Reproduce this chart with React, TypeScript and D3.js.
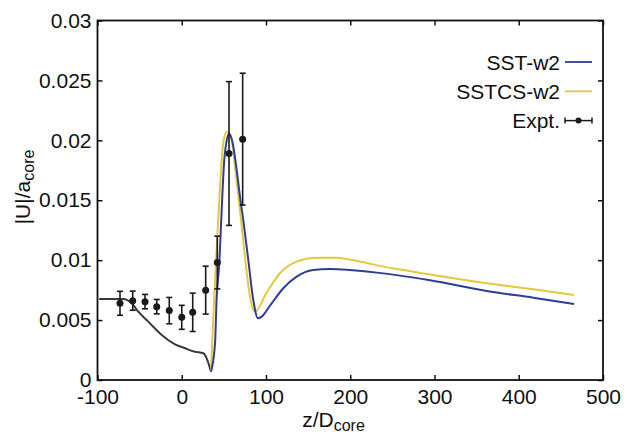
import React, { useEffect, useRef } from "react";
import * as d3 from "d3";

// upstream part (dark grey), shared by both runs
const upZ = [-98, -69.4, -59.4, -51.6, -39.7, -23.8, -8, 3.9, 15.7, 25.6, 29.6, 34.7];
const upU = [0.00676, 0.00676, 0.0064, 0.0057, 0.00487, 0.00376, 0.00298, 0.00265, 0.00236, 0.00223, 0.00181, 0.00069];

const sstZ = [34.7, 39.5, 41.5, 44.6, 47.4, 50.2, 53.4, 56.4, 60.5, 65.2, 69.1, 73, 79, 84.9, 90.5, 94.9, 104.7, 120.5, 136.4, 156.1, 176, 199.7, 231.4, 259, 294.7, 362, 417.3, 465.6];
const sstU = [0.00069, 0.00306, 0.00696, 0.00974, 0.0142, 0.0181, 0.02, 0.02054, 0.01976, 0.01754, 0.0153, 0.01336, 0.01, 0.00668, 0.00515, 0.00529, 0.0062, 0.00766, 0.00863, 0.00918, 0.00927, 0.00918, 0.00896, 0.00871, 0.00832, 0.00743, 0.00687, 0.00635];

const sstcsZ = [34.7, 37.5, 40.7, 45.4, 49.3, 53.4, 59.3, 63.2, 69.1, 75, 81, 87, 100.8, 116.6, 136.4, 160.2, 183.9, 211.6, 239.2, 267, 294.7, 362, 417.3, 465.6];
const sstcsU = [0.00069, 0.00529, 0.01, 0.0161, 0.0198, 0.0207, 0.02, 0.0178, 0.0142, 0.0103, 0.00696, 0.0057, 0.0073, 0.00891, 0.00988, 0.01021, 0.01021, 0.00988, 0.00946, 0.00913, 0.0088, 0.00807, 0.00757, 0.0071];

const exptZ = [-73.3, -58.2, -43.6, -29.7, -14.8, 0, 13, 28.4, 42.2, 56.1, 72.3];
const exptU = [0.0064, 0.00662, 0.00654, 0.00612, 0.00579, 0.00523, 0.00565, 0.0075, 0.0098, 0.0189, 0.0201];
const exptErr = [0.001, 0.0008, 0.0006, 0.0006, 0.0011, 0.001, 0.0016, 0.002, 0.0022, 0.006, 0.0055];

const xTicks = [-100, 0, 100, 200, 300, 400, 500];
const xTickLabels = ["-100", "0", "100", "200", "300", "400", "500"];
const yTicks = [0, 0.005, 0.01, 0.015, 0.02, 0.025, 0.03];
const yTickLabels = ["0", "0.005", "0.01", "0.015", "0.02", "0.025", "0.03"];

const legendNames = ["SST-w2", "SSTCS-w2", "Expt."];

const BLUE = "#2f3d95";
const YELLOW = "#e5c93c";
const GREY = "#3a3a3a";
const FONT = "'Liberation Sans', Arial, sans-serif";

export default function App() {
  const ref = useRef<SVGSVGElement | null>(null);

  useEffect(() => {
    const W = 627;
    const H = 432;
    const m = { left: 97.5, right: 24, top: 20.5, bottom: 52 };
    const w = W - m.left - m.right;
    const h = H - m.top - m.bottom;

    const svg = d3.select(ref.current);
    svg.selectAll("*").remove();

    const x = d3.scaleLinear().domain([-100, 500]).range([0, w]);
    const y = d3.scaleLinear().domain([0, 0.03]).range([h, 0]);

    const g = svg.append("g").attr("transform", `translate(${m.left},${m.top})`);

    const line = d3
      .line<[number, number]>()
      .x((d) => x(d[0]))
      .y((d) => y(d[1]))
      .curve(d3.curveMonotoneX);

    const zip = (a: number[], b: number[]) => a.map((v, i) => [v, b[i]] as [number, number]);

    g.append("path")
      .datum(zip(upZ, upU))
      .attr("fill", "none")
      .attr("stroke", GREY)
      .attr("stroke-width", 2)
      .attr("d", line);

    g.append("path")
      .datum(zip(sstcsZ, sstcsU))
      .attr("fill", "none")
      .attr("stroke", YELLOW)
      .attr("stroke-width", 2)
      .attr("d", line);

    g.append("path")
      .datum(zip(sstZ, sstU))
      .attr("fill", "none")
      .attr("stroke", BLUE)
      .attr("stroke-width", 2)
      .attr("d", line);

    // experiment with error bars
    const ex = g.append("g");
    exptZ.forEach((z, i) => {
      const cx = x(z);
      const lo = y(exptU[i] - exptErr[i]);
      const hi = y(exptU[i] + exptErr[i]);
      ex.append("line").attr("x1", cx).attr("x2", cx).attr("y1", lo).attr("y2", hi)
        .attr("stroke", "#1a1a1a").attr("stroke-width", 1.6);
      [lo, hi].forEach((yy) =>
        ex.append("line").attr("x1", cx - 3).attr("x2", cx + 3).attr("y1", yy).attr("y2", yy)
          .attr("stroke", "#1a1a1a").attr("stroke-width", 1.6)
      );
      ex.append("circle").attr("cx", cx).attr("cy", y(exptU[i])).attr("r", 3.5).attr("fill", "#1a1a1a");
    });

    // frame + inward ticks
    const fmtX = (_: any, i: number) => xTickLabels[i];
    const fmtY = (_: any, i: number) => yTickLabels[i];
    const styleAxis = (sel: any) => {
      sel.select(".domain").remove();
      sel.selectAll("line").attr("stroke", "#111").attr("stroke-width", 1.5);
      sel.selectAll("text").attr("font-family", FONT).attr("font-size", 21).attr("fill", "#111");
    };

    g.append("g")
      .attr("transform", `translate(0,${h})`)
      .call(d3.axisBottom(x).tickValues(xTicks).tickSizeInner(-5).tickSizeOuter(0).tickPadding(9).tickFormat(fmtX as any))
      .call(styleAxis);
    g.append("g")
      .call(d3.axisTop(x).tickValues(xTicks).tickSizeInner(-5).tickSizeOuter(0).tickFormat(() => ""))
      .call(styleAxis);
    g.append("g")
      .call(d3.axisLeft(y).tickValues(yTicks).tickSizeInner(-5).tickSizeOuter(0).tickPadding(6).tickFormat(fmtY as any))
      .call(styleAxis);
    g.append("g")
      .attr("transform", `translate(${w},0)`)
      .call(d3.axisRight(y).tickValues(yTicks).tickSizeInner(-5).tickSizeOuter(0).tickFormat(() => ""))
      .call(styleAxis);

    g.append("rect")
      .attr("width", w)
      .attr("height", h)
      .attr("fill", "none")
      .attr("stroke", "#111")
      .attr("stroke-width", 1.8);

    // legend
    const lg = svg.append("g").attr("transform", "translate(560,62)");
    legendNames.forEach((name, i) => {
      const row = lg.append("g").attr("transform", `translate(0,${i * 29.3})`);
      row.append("text")
        .attr("text-anchor", "end")
        .attr("dy", "0.36em")
        .attr("font-family", FONT)
        .attr("font-size", 21)
        .attr("fill", "#111")
        .text(name);
      const col = i === 0 ? BLUE : i === 1 ? YELLOW : "#1a1a1a";
      row.append("line").attr("x1", 5).attr("x2", 32).attr("y1", 0).attr("y2", 0)
        .attr("stroke", col).attr("stroke-width", i === 2 ? 1.5 : 1.8);
      if (i === 2) {
        row.append("circle").attr("cx", 18.5).attr("cy", 0).attr("r", 3).attr("fill", "#1a1a1a");
        [5, 32].forEach((xx) =>
          row.append("line").attr("x1", xx).attr("x2", xx).attr("y1", -3).attr("y2", 3)
            .attr("stroke", "#1a1a1a").attr("stroke-width", 1.5)
        );
      }
    });

    // axis titles
    const xl = svg.append("text")
      .attr("x", 333.5)
      .attr("y", 426.5)
      .attr("text-anchor", "middle")
      .attr("font-family", FONT)
      .attr("font-size", 21)
      .attr("fill", "#111");
    xl.append("tspan").text("z/D");
    xl.append("tspan").attr("dy", 4).attr("font-size", 16).text("core");

    const yl = svg.append("text")
      .attr("transform", "translate(30,187) rotate(-90)")
      .attr("text-anchor", "middle")
      .attr("font-family", FONT)
      .attr("font-size", 21)
      .attr("fill", "#111");
    yl.append("tspan").text("|U|/a");
    yl.append("tspan").attr("dy", 4).attr("font-size", 16).text("core");
  }, []);

  return (
    <svg
      ref={ref}
      width={627}
      height={432}
      style={{ position: "absolute", left: 0, top: 0, background: "#fff" }}
    />
  );
}
